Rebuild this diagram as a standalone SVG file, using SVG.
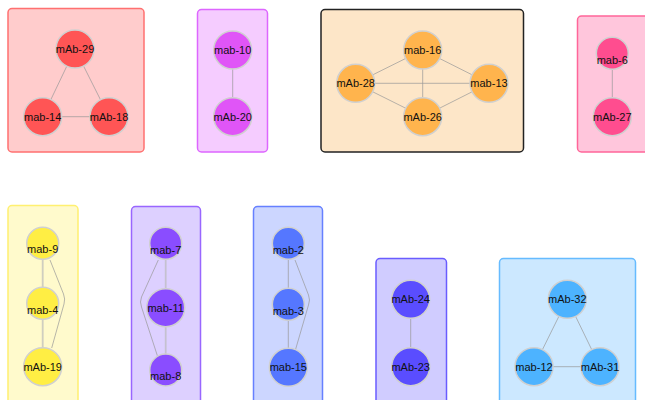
<svg xmlns="http://www.w3.org/2000/svg" width="645" height="400" viewBox="0 0 645 400">
<style>
.grp{stroke-width:1.5}
.n{stroke:#d0d0d0;stroke-width:1.5}
.t{font-family:"Liberation Sans",Arial,sans-serif;font-size:11px;fill:#111;text-anchor:middle}
.e{stroke:#999;stroke-opacity:0.7;stroke-width:1;fill:none}
.e2{stroke:#bbb;stroke-opacity:0.7;stroke-width:1.8;fill:none}
</style>
<rect width="645" height="400" fill="#fff"/>
<g id="groups">
<rect id="g1" class="grp" x="8" y="8.5" width="136" height="143.5" rx="4" fill="#ffcccc" stroke="#ff7070"/>
<rect id="g2" class="grp" x="197.5" y="9.5" width="70" height="142.5" rx="4" fill="#f5ccff" stroke="#dd66ff"/>
<rect id="g3" class="grp" x="321" y="9.5" width="202.5" height="142.5" rx="4" fill="#fde6c8" stroke="#222"/>
<rect id="g4" class="grp" x="577.5" y="16" width="80" height="136" rx="4" fill="#ffc6dc" stroke="#ff6699"/>
<rect id="g5" class="grp" x="8" y="205.5" width="70" height="210" rx="4" fill="#fffacc" stroke="#fff070"/>
<rect id="g6" class="grp" x="131.5" y="206.5" width="69" height="210" rx="4" fill="#ddd0ff" stroke="#9966ff"/>
<rect id="g7" class="grp" x="253.5" y="206.5" width="69" height="210" rx="4" fill="#ccd6ff" stroke="#6680ff"/>
<rect id="g8" class="grp" x="376" y="258.5" width="70.5" height="160" rx="4" fill="#d0ccff" stroke="#6a5cff"/>
<rect id="g9" class="grp" x="499.5" y="258.5" width="136" height="160" rx="4" fill="#cce8ff" stroke="#66bbff"/>
</g>
<g id="connectors">
<line class="e" x1="75" y1="49" x2="42.7" y2="116.7"/>
<line class="e" x1="75" y1="49" x2="109" y2="116.7"/>
<line class="e" x1="42.7" y1="116.7" x2="109" y2="116.7"/>
<line class="e" x1="232.7" y1="50" x2="232.7" y2="116.7"/>
<line class="e" x1="422.7" y1="50" x2="355.7" y2="83.3"/>
<line class="e" x1="422.7" y1="50" x2="489" y2="83.3"/>
<line class="e" x1="422.7" y1="50" x2="422.7" y2="116.7"/>
<line class="e" x1="355.7" y1="83.3" x2="489" y2="83.3"/>
<line class="e" x1="355.7" y1="83.3" x2="422.7" y2="116.7"/>
<line class="e" x1="422.7" y1="116.7" x2="489" y2="83.3"/>
<line class="e" x1="612.3" y1="53.3" x2="612.3" y2="116.7"/>
<line class="e2" x1="42.7" y1="243.3" x2="42.7" y2="303.3"/>
<line class="e2" x1="42.7" y1="303.3" x2="42.7" y2="366.7"/>
<path class="e" d="M50,260 L63.5,294 Q65.5,299 64,304 L51.7,348"/>
<line class="e2" x1="165.7" y1="243.3" x2="165.7" y2="307.7"/>
<line class="e2" x1="165.7" y1="307.7" x2="165.7" y2="370"/>
<path class="e" d="M158.3,260 L141.5,297 Q139.5,302 141.5,307 L157.7,356.7"/>
<line class="e" x1="288.3" y1="243.3" x2="288.3" y2="304.3"/>
<line class="e" x1="288.3" y1="304.3" x2="288.3" y2="367.3"/>
<path class="e" d="M295,260 L308.5,295 Q310.5,300 308.5,305 L295.7,349"/>
<line class="e" x1="410.7" y1="299.3" x2="410.7" y2="366.7"/>
<line class="e" x1="567.3" y1="299.3" x2="534" y2="366.7"/>
<line class="e" x1="567.3" y1="299.3" x2="600" y2="366.7"/>
<line class="e" x1="534" y1="366.7" x2="600" y2="366.7"/>
</g>
<g id="mAb-29"><circle class="n" cx="75" cy="49" r="19" fill="#ff5555"/><text class="t" x="75" y="53">mAb-29</text></g>
<g id="mab-14"><circle class="n" cx="42.7" cy="116.7" r="19" fill="#ff5555"/><text class="t" x="42.7" y="120.7">mab-14</text></g>
<g id="mAb-18"><circle class="n" cx="109" cy="116.7" r="19" fill="#ff5555"/><text class="t" x="109" y="120.7">mAb-18</text></g>
<g id="mab-10"><circle class="n" cx="232.7" cy="50" r="19" fill="#e055f7"/><text class="t" x="232.7" y="54">mab-10</text></g>
<g id="mAb-20"><circle class="n" cx="232.7" cy="116.7" r="19" fill="#e055f7"/><text class="t" x="232.7" y="120.7">mAb-20</text></g>
<g id="mab-16"><circle class="n" cx="422.7" cy="50" r="19" fill="#ffb44d"/><text class="t" x="422.7" y="54">mab-16</text></g>
<g id="mAb-28"><circle class="n" cx="355.7" cy="83.3" r="19" fill="#ffb44d"/><text class="t" x="355.7" y="87.3">mAb-28</text></g>
<g id="mab-13"><circle class="n" cx="489" cy="83.3" r="19" fill="#ffb44d"/><text class="t" x="489" y="87.3">mab-13</text></g>
<g id="mAb-26"><circle class="n" cx="422.7" cy="116.7" r="19" fill="#ffb44d"/><text class="t" x="422.7" y="120.7">mAb-26</text></g>
<g id="mab-6"><circle class="n" cx="612.3" cy="53.3" r="16" fill="#ff4d8f"/><text class="t" x="612.3" y="63.5">mab-6</text></g>
<g id="mAb-27"><circle class="n" cx="612.3" cy="116.7" r="19" fill="#ff4d8f"/><text class="t" x="612.3" y="120.7">mAb-27</text></g>
<g id="mab-9"><circle class="n" cx="42.7" cy="243.3" r="16" fill="#ffee44"/><text class="t" x="42.7" y="253.3">mab-9</text></g>
<g id="mab-4"><circle class="n" cx="42.7" cy="303.3" r="16" fill="#ffee44"/><text class="t" x="42.7" y="313.5">mab-4</text></g>
<g id="mAb-19"><circle class="n" cx="42.7" cy="366.7" r="19" fill="#ffee44"/><text class="t" x="42.7" y="370.7">mAb-19</text></g>
<g id="mab-7"><circle class="n" cx="165.7" cy="243.3" r="16" fill="#8a4dff"/><text class="t" x="165.7" y="253.8">mab-7</text></g>
<g id="mab-11"><circle class="n" cx="165.7" cy="307.7" r="19" fill="#8a4dff"/><text class="t" x="165.7" y="311.7">mab-11</text></g>
<g id="mab-8"><circle class="n" cx="165.7" cy="370" r="16" fill="#8a4dff"/><text class="t" x="165.7" y="380.3">mab-8</text></g>
<g id="mab-2"><circle class="n" cx="288.3" cy="243.3" r="16" fill="#5577ff"/><text class="t" x="288.3" y="254.3">mab-2</text></g>
<g id="mab-3"><circle class="n" cx="288.3" cy="304.3" r="16" fill="#5577ff"/><text class="t" x="288.3" y="314.5">mab-3</text></g>
<g id="mab-15"><circle class="n" cx="288.3" cy="367.3" r="19" fill="#5577ff"/><text class="t" x="288.3" y="371.3">mab-15</text></g>
<g id="mAb-24"><circle class="n" cx="410.7" cy="299.3" r="19" fill="#5a4dff"/><text class="t" x="410.7" y="303.3">mAb-24</text></g>
<g id="mAb-23"><circle class="n" cx="410.7" cy="366.7" r="19" fill="#5a4dff"/><text class="t" x="410.7" y="370.7">mAb-23</text></g>
<g id="mAb-32"><circle class="n" cx="567.3" cy="299.3" r="19" fill="#4db3ff"/><text class="t" x="567.3" y="303.3">mAb-32</text></g>
<g id="mab-12"><circle class="n" cx="534" cy="366.7" r="19" fill="#4db3ff"/><text class="t" x="534" y="370.7">mab-12</text></g>
<g id="mAb-31"><circle class="n" cx="600" cy="366.7" r="19" fill="#4db3ff"/><text class="t" x="600" y="370.7">mAb-31</text></g>
</svg>
